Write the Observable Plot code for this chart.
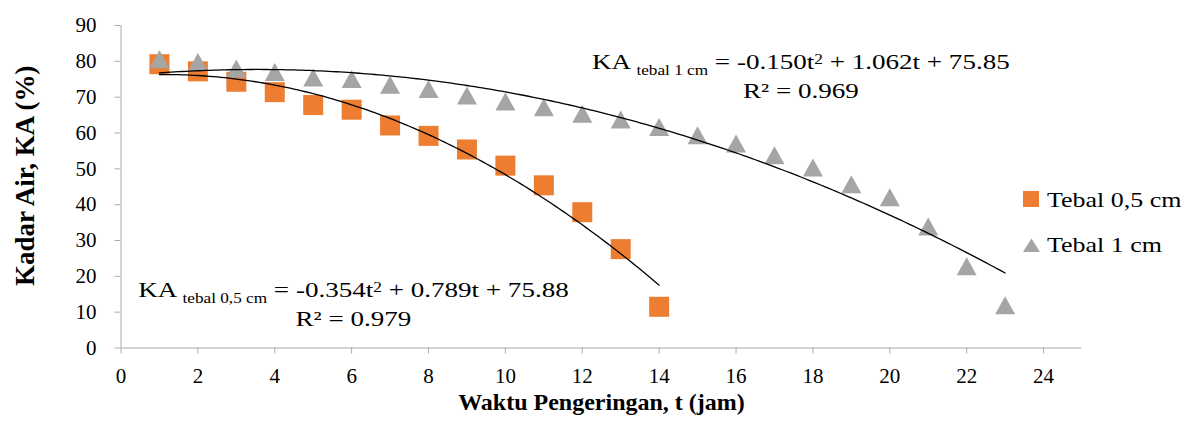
<!DOCTYPE html>
<html>
<head>
<meta charset="utf-8">
<script src="https://cdn.jsdelivr.net/npm/d3@7"></script>
<script src="https://cdn.jsdelivr.net/npm/@observablehq/plot@0.6"></script>
<style>
  html, body { margin: 0; padding: 0; background: #fff; }
  #chart { width: 1186px; height: 426px; }
  #chart svg { font-family: 'Liberation Serif', 'Times New Roman', serif; }
</style>
</head>
<body>
<div id="chart"></div>
<script>
// ---- data ----
const seriesNames = ["Tebal 0,5 cm", "Tebal 1 cm"];
const seriesColors = ["#ED7D31", "#A5A5A5"];
const timeA = [1, 2, 3, 4, 5, 6, 7, 8, 9, 10, 11, 12, 13, 14];
const kadarA = [79.2, 77.2, 74.3, 71.4, 67.8, 66.5, 62.1, 59.2, 55.4, 50.9, 45.4, 37.9, 27.6, 11.5];
const timeB = [1, 2, 3, 4, 5, 6, 7, 8, 9, 10, 11, 12, 13, 14, 15, 16, 17, 18, 19, 20, 21, 22, 23];
const kadarB = [80.6, 79.8, 78.0, 77.0, 75.5, 75.1, 73.5, 72.3, 70.5, 68.8, 67.2, 65.4, 63.8, 61.7, 59.4, 57.1, 53.8, 50.4, 45.7, 42.1, 33.9, 22.8, 11.9];
// trendline coefficients (a t^2 + b t + c) and R^2 as printed on the chart
const coefA = [-0.354, 0.789, 75.88];
const coefB = [-0.150, 1.062, 75.85];
const r2A = 0.979;
const r2B = 0.969;
const subA = "tebal 0,5 cm";
const subB = "tebal 1 cm";
const xTicks = [0, 2, 4, 6, 8, 10, 12, 14, 16, 18, 20, 22, 24];
const yTicks = [0, 10, 20, 30, 40, 50, 60, 70, 80, 90];
const xTitle = "Waktu Pengeringan, t (jam)";
const yTitle = "Kadar Air, KA (%)";

// ---- derived tables ----
const ptsA = timeA.map((t, i) => ({t, v: kadarA[i]}));
const ptsB = timeB.map((t, i) => ({t, v: kadarB[i]}));
const poly = (c, t) => c[0] * t * t + c[1] * t + c[2];
const trendA = d3.range(1, 14.0001, 0.1).map(t => ({t, v: poly(coefA, t)}));
const trendB = d3.range(1, 23.0001, 0.1).map(t => ({t, v: poly(coefB, t)}));

const squareSym = {draw(ctx, size) { const s = Math.sqrt(size / Math.PI); ctx.rect(-s, -s, 2 * s, 2 * s); }};
const triSym = {draw(ctx, size) { const s = Math.sqrt(size / Math.PI); ctx.moveTo(0, -0.9 * s); ctx.lineTo(s, 0.9 * s); ctx.lineTo(-s, 0.9 * s); ctx.closePath(); }};

const FONT = "Liberation Serif";
const AXIS = "#ababab";

const plot = Plot.plot({
  width: 1186,
  height: 426,
  marginLeft: 120.5,
  marginRight: 104.5,
  marginTop: 25,
  marginBottom: 78.5,
  style: {fontFamily: FONT, fontSize: "21px", color: "#000", background: "#fff"},
  x: {domain: [0, 25]},
  y: {domain: [0, 90]},
  marks: [
    Plot.axisX({ticks: xTicks, tickSize: 6, tickPadding: 14, stroke: AXIS, fill: "#000", fontFamily: FONT, fontSize: 21, label: null, tickFormat: d => String(d)}),
    Plot.axisY({ticks: yTicks, tickSize: 6, tickPadding: 18.5, stroke: AXIS, fill: "#000", fontFamily: FONT, fontSize: 21, label: null, tickFormat: d => String(d)}),
    Plot.ruleY([0], {stroke: AXIS, strokeWidth: 1}),
    Plot.ruleX([0], {stroke: AXIS, strokeWidth: 1}),
    Plot.dot(ptsA, {x: "t", y: "v", r: 10, symbol: squareSym, fill: seriesColors[0], stroke: null}),
    Plot.dot(ptsB, {x: "t", y: "v", r: 10, symbol: triSym, fill: seriesColors[1], stroke: null}),
    Plot.line(trendA, {x: "t", y: "v", stroke: "#000", strokeWidth: 1.3}),
    Plot.line(trendB, {x: "t", y: "v", stroke: "#000", strokeWidth: 1.3}),
    Plot.text([xTitle], {frameAnchor: "bottom", textAnchor: "middle", dy: 61.8, fontFamily: FONT, fontSize: 24, fontWeight: "bold", fill: "#000"}),
    Plot.text([yTitle], {frameAnchor: "left", textAnchor: "middle", dx: -96, dy: -11, rotate: -90, fontFamily: FONT, fontSize: 27, fontWeight: "bold", fill: "#000"})
  ]
});
document.getElementById("chart").append(plot);

const xs = plot.scale("x"), ys = plot.scale("y");
const svg = d3.select(plot);

function addEq(cx, cy, sub, coef, r2) {
  const g = svg.append("g")
    .attr("transform", `translate(${cx},${cy}) scale(1.23,1)`)
    .attr("font-family", FONT).attr("fill", "#000").attr("text-anchor", "middle");
  const t = g.append("text").attr("text-anchor", "middle").attr("font-size", 22);
  t.append("tspan").text("KA ");
  t.append("tspan").attr("font-size", 14).attr("dy", 5.7).text(sub);
  t.append("tspan").attr("dy", -5.7).text(" = " + coef[0].toFixed(3) + "t");
  t.append("tspan").attr("font-size", 14).attr("dy", -5.3).text("2");
  t.append("tspan").attr("dy", 5.3).text(" + " + coef[1].toFixed(3) + "t + " + coef[2].toFixed(2));
  g.append("text").attr("text-anchor", "middle").attr("font-size", 22).attr("y", 29)
    .text("R² = " + r2.toFixed(3));
}
addEq(xs.apply(6.06), ys.apply(14.1), subA, coefA, r2A);
addEq(xs.apply(17.7), ys.apply(77.75), subB, coefB, r2B);

// legend
const lg = svg.append("g").attr("font-family", FONT).attr("fill", "#000").attr("text-anchor", "start");
lg.append("rect").attr("x", 1023).attr("y", 191).attr("width", 16).attr("height", 16).attr("fill", seriesColors[0]);
lg.append("path").attr("d", "M1031.5,238.5L1040,252L1023,252Z").attr("fill", seriesColors[1]);
lg.append("text").attr("text-anchor", "start").attr("transform", "translate(1047,207) scale(1.18,1)").attr("font-size", 22).text(seriesNames[0]);
lg.append("text").attr("text-anchor", "start").attr("transform", "translate(1047,252) scale(1.18,1)").attr("font-size", 22).text(seriesNames[1]);
</script>
</body>
</html>
